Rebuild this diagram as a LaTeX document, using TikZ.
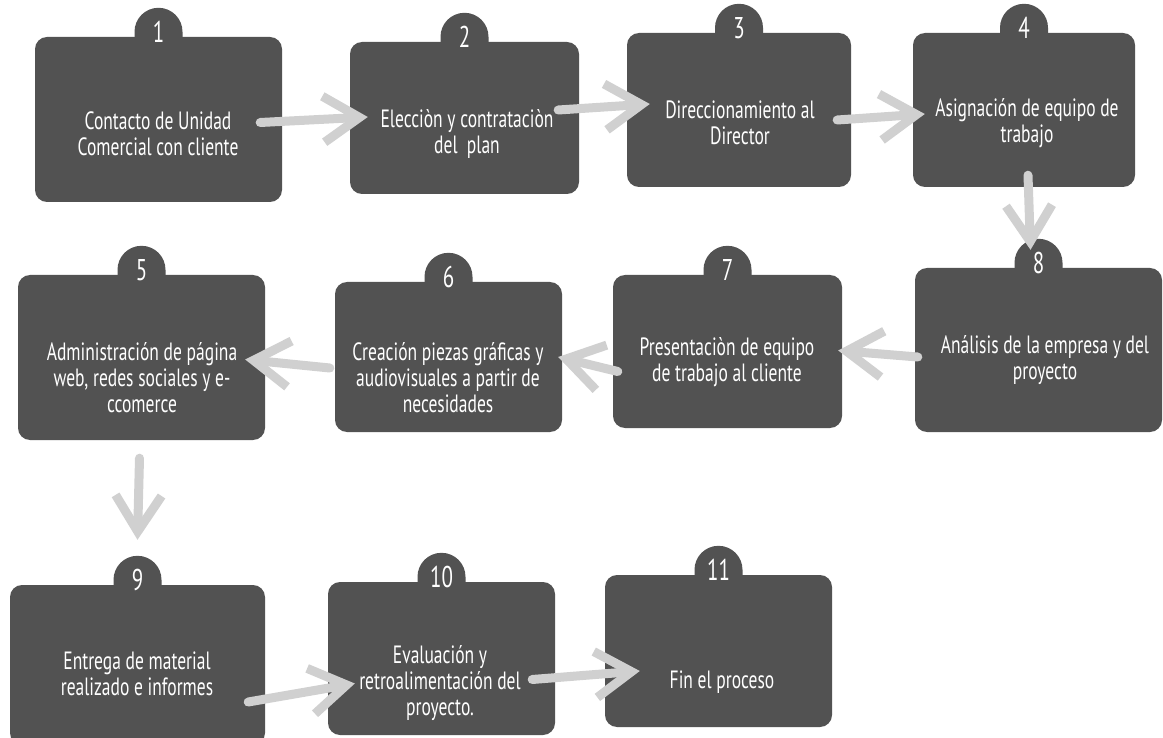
\documentclass[tikz,border=0pt]{standalone}
\usepackage{fontspec}
\setmainfont{PT Sans}[FakeStretch=0.7]
\usetikzlibrary{arrows.meta,calc}
\definecolor{cajagris}{RGB}{82,82,82}
\definecolor{flechagris}{RGB}{208,208,208}
\tikzset{
  caja/.style={fill=cajagris, rounded corners=12pt, inner sep=0pt},
  texto/.style={text=white, font=\fontsize{25}{26}\selectfont, align=center},
  numero/.style={text=white, font=\fontsize{30}{30}\selectfont},
  flecha/.style={draw=flechagris, line width=9pt, line cap=round, line join=round,
    -{Straight Barb[length=36pt,width=46pt]}}
}
\begin{document}
\begin{tikzpicture}[x=1pt, y=-1pt]
  \clip (0,0) rectangle (1163,738);
  \fill[white] (0,0) rectangle (1163,738);
  % boxes, row 1
  \node[caja, minimum width=247pt, minimum height=165pt] (p1) at (158.5,119.5) {};
  \node[caja, minimum width=229pt, minimum height=152pt] (p2) at (464.5,118) {};
  \node[caja, minimum width=224pt, minimum height=154pt] (p3) at (739,110) {};
  \node[caja, minimum width=222pt, minimum height=154pt] (p4) at (1024,110) {};
  % row 2
  \node[caja, minimum width=247pt, minimum height=165pt] (p5) at (141.5,357.5) {};
  \node[caja, minimum width=227pt, minimum height=150pt] (p6) at (448.5,357) {};
  \node[caja, minimum width=229pt, minimum height=153pt] (p7) at (727.5,351.5) {};
  \node[caja, minimum width=247pt, minimum height=164pt] (p8) at (1038.5,350) {};
  % row 3
  \node[caja, minimum width=255pt, minimum height=160pt] (p9) at (137.5,665) {};
  \node[caja, minimum width=227pt, minimum height=153pt] (p10) at (441.5,658.5) {};
  \node[caja, minimum width=227pt, minimum height=152pt] (p11) at (718.5,651) {};
  % tabs with numbers
  \foreach \n in {1,...,11} {
    \fill[cajagris] ($(p\n.north)+(-24,0)$) -- ++(0,-5)
      arc[start angle=180, end angle=0, radius=24pt] -- ++(0,5) -- cycle;
    \node[numero] (n\n) at ($(p\n.north)+(0,-5)$) {\n};
  }
  % texts
  \node[texto] (t1) at (158,134) {Contacto de Unidad\\Comercial con cliente};
  \node[texto] (t2) at (467,134) {Elecciòn y contrataciòn\\del~ plan};
  \node[texto] (t3) at (740,123) {Direccionamiento al\\Director};
  \node[texto] (t4) at (1027,123) {Asignación de equipo de\\trabajo};
  \node[texto] (t5) at (142,378) {Administración de página\\web, redes sociales y e-\\ccomerce};
  \node[texto] (t6) at (448,378) {Creación piezas gráficas y\\audiovisuales a partir de\\necesidades};
  \node[texto] (t7) at (727,362) {Presentaciòn de equipo\\de trabajo al cliente};
  \node[texto] (t8) at (1045,360) {Análisis de la empresa y del\\proyecto};
  \node[texto] (t9) at (137,674) {Entrega de material\\realizado e informes};
  \node[texto] (t10) at (440,683) {Evaluación y\\retroalimentación del\\proyecto.};
  \node[texto] (t11) at (722,682) {Fin el proceso};
  % arrows
  \draw[flecha] ($(p1.east)+(-22,3)$) -- ($(p2.west)+(18,-1)$);
  \draw[flecha] ($(p2.east)+(-21,-8)$) -- ($(p3.west)+(23,-6)$);
  \draw[flecha] ($(p3.east)+(-14,10)$) -- ($(p4.west)+(12,4)$);
  \draw[flecha] ($(p4.south)+(4,-12)$) -- ($(p8.north)+(-8,-18)$);
  \draw[flecha] ($(p8.west)+(3,7)$) -- ($(p7.east)+(-4,-1)$);
  \draw[flecha] ($(p7.west)+(5,20)$) -- ($(p6.east)+(-4,0)$);
  \draw[flecha] ($(p6.west)+(-5,11)$) -- ($(p5.east)+(-20,2)$);
  \draw[flecha] ($(p5.south)+(-2,18)$) -- ($(p9.north)+(0,-45)$);
  \draw[flecha] ($(p9.east)+(-17,37)$) -- ($(p10.west)+(27,25)$);
  \draw[flecha] ($(p10.east)+(-23,21)$) -- ($(p11.west)+(35,20)$);
\end{tikzpicture}
\end{document}
